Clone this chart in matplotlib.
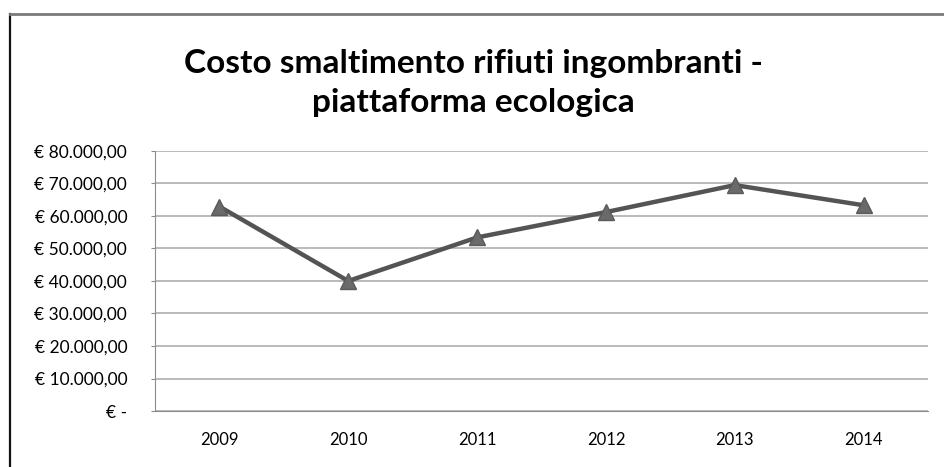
import matplotlib

matplotlib.use("Agg")
import matplotlib.pyplot as plt
from matplotlib.lines import Line2D
from matplotlib.ticker import FuncFormatter

years = ["2009", "2010", "2011", "2012", "2013", "2014"]
costs = [62900, 40000, 53400, 61200, 69500, 63300]
y_ticks = [0, 10000, 20000, 30000, 40000, 50000, 60000, 70000, 80000]

plt.rcParams["font.family"] = ["Lato", "DejaVu Sans"]


def euro(value, _pos):
    if value == 0:
        return "€ -"
    text = f"{value:,.2f}".replace(",", "X").replace(".", ",").replace("X", ".")
    return f"€ {text}"


fig = plt.figure(figsize=(9.44, 4.67), dpi=100)
ax = fig.add_axes([0.1642, 0.1199, 0.8189, 0.5568])

x = range(len(years))
ax.plot(x, costs, color="#545454", linewidth=3.2, marker="^", markersize=11,
        markerfacecolor="#6a6a6a", markeredgecolor="#5a5a5a", zorder=3)

ax.set_xlim(-0.5, len(years) - 0.5)
ax.set_ylim(0, 80000)
ax.set_xticks(list(x))
ax.set_xticklabels(years)
ax.set_yticks(y_ticks)
ax.yaxis.set_major_formatter(FuncFormatter(euro))
ax.grid(axis="y", color="#b4b4b4", linewidth=1.3)
ax.set_axisbelow(True)

for side in ("top", "right"):
    ax.spines[side].set_visible(False)
ax.spines["left"].set_color("#8c8c8c")
ax.spines["bottom"].set_color("#8c8c8c")
ax.tick_params(axis="y", length=3, color="#8c8c8c", pad=17, labelsize=12.5)
ax.tick_params(axis="x", length=0, pad=15, labelsize=12)

fig.text(0.501, 0.822, "Costo smaltimento rifiuti ingombranti -\npiattaforma ecologica",
         ha="center", va="center", fontsize=24, fontweight="bold", linespacing=1.4)

# chart frame: dark left edge, grey top edge
fig.add_artist(Line2D([9.5 / 944, 9.5 / 944], [0, 1 - 14 / 467], color="#111111", linewidth=1.6))
fig.add_artist(Line2D([9.5 / 944, 1], [1 - 14 / 467, 1 - 14 / 467], color="#7a7a7a", linewidth=2))

plt.savefig("out.png", dpi=100)
